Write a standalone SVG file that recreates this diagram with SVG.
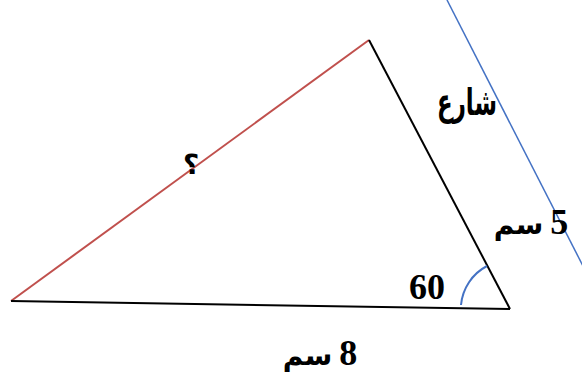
<svg xmlns="http://www.w3.org/2000/svg" width="582" height="379" viewBox="0 0 582 379">
<style>
.t{font-family:"Liberation Serif","DejaVu Serif","DejaVu Sans",serif;font-weight:bold;fill:#000}
.ar{font-family:"Liberation Serif","DejaVu Sans",serif;font-weight:bold;fill:#000}
.d{font-size:36px}
.w{font-size:28px}
</style>
<rect width="582" height="379" fill="#fff"/>
<g id="street-line">
<line x1="447" y1="0" x2="584" y2="268" stroke="#4472c4" stroke-width="1.5"/>
</g>
<g id="connectors">
<line x1="11" y1="301" x2="369" y2="40" stroke="#c0504d" stroke-width="2"/>
<line x1="369" y1="40" x2="510" y2="309" stroke="#000" stroke-width="2"/>
<line x1="11" y1="301" x2="510" y2="309" stroke="#000" stroke-width="2"/>
<path d="M 461 305 A 49 49 0 0 1 487 266" fill="none" stroke="#4472c4" stroke-width="2"/>
</g>
<g id="labels">
<text class="ar" x="467" y="115" font-size="37" text-anchor="middle" direction="rtl" textLength="60" lengthAdjust="spacingAndGlyphs">شارع</text>
<text class="ar" x="531" y="234" text-anchor="middle" direction="rtl"><tspan class="d">5</tspan><tspan class="w"> سم</tspan></text>
<text class="t" x="427" y="299" font-size="36" text-anchor="middle">60</text>
<text class="ar" x="320" y="365" text-anchor="middle" direction="rtl"><tspan class="d">8</tspan><tspan class="w"> سم</tspan></text>
<text class="ar" x="191" y="174" font-size="28" text-anchor="middle">؟</text>
</g>
</svg>
